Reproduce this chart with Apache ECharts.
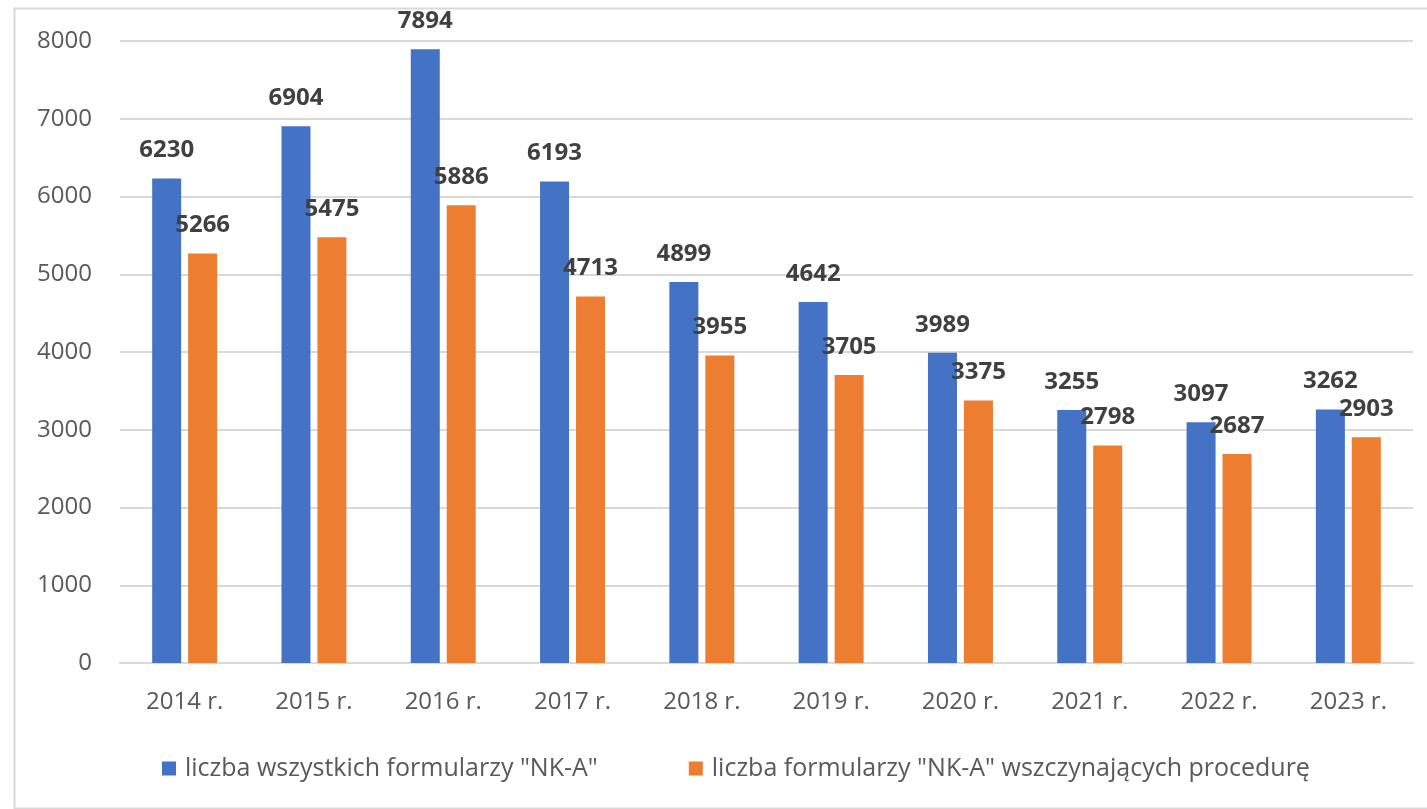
<!DOCTYPE html>
<html>
<head>
<meta charset="utf-8">
<script src="https://cdn.jsdelivr.net/npm/echarts@6/dist/echarts.min.js"></script>
<style>
  html, body { margin: 0; padding: 0; background: #fff; }
  #chart { width: 1427px; height: 809px; }
</style>
</head>
<body>
<div id="chart"></div>
<script>
var years = ['2014 r.', '2015 r.', '2016 r.', '2017 r.', '2018 r.', '2019 r.', '2020 r.', '2021 r.', '2022 r.', '2023 r.'];
var allForms = [6230, 6904, 7894, 6193, 4899, 4642, 3989, 3255, 3097, 3262];
var startingForms = [5266, 5475, 5886, 4713, 3955, 3705, 3375, 2798, 2687, 2903];
var yTicks = [0, 1000, 2000, 3000, 4000, 5000, 6000, 7000, 8000];

var nameAll = 'liczba wszystkich formularzy "NK-A"';
var nameStart = 'liczba formularzy "NK-A" wszczynających procedurę';

var fontName = '"Open Sans", "Liberation Sans", sans-serif';

var myChart = echarts.init(document.getElementById('chart'));

// etykiety wartości nad słupkami
var valueLabel = {
    show: true,
    position: 'top',
    distance: 16,
    fontSize: 24,
    fontWeight: 'bold',
    fontFamily: fontName,
    color: '#404040'
};

var option = {
    backgroundColor: '#fff',
    animation: false,
    graphic: [{
        type: 'rect',
        left: 12,
        top: 6,
        shape: { width: 1440, height: 800 },
        style: { fill: 'none', stroke: '#d9d9d9', lineWidth: 2 },
        silent: true
    }],
    grid: {
        left: 120,
        right: 14,
        top: 41,
        bottom: 146
    },
    legend: {
        bottom: 28,
        left: 162,
        padding: 0,
        itemWidth: 14,
        itemHeight: 14,
        itemGap: 91,
        icon: 'rect',
        textStyle: { fontSize: 25, color: '#595959', fontFamily: fontName, padding: [0, 0, 0, 4] },
        data: [nameAll, nameStart]
    },
    xAxis: {
        type: 'category',
        data: years,
        axisLine: { lineStyle: { color: '#d9d9d9', width: 2 } },
        axisTick: { show: false },
        axisLabel: { fontSize: 24, color: '#595959', margin: 27, fontFamily: fontName }
    },
    yAxis: {
        type: 'value',
        min: yTicks[0],
        max: yTicks[yTicks.length - 1],
        interval: 1000,
        axisLine: { show: false },
        axisTick: { show: false },
        splitLine: { lineStyle: { color: '#d9d9d9', width: 2 } },
        axisLabel: {
            fontSize: 24, color: '#595959', margin: 28, fontFamily: fontName,
            formatter: function (v) { return String(v); }
        }
    },
    series: [{
        name: nameAll,
        type: 'bar',
        data: allForms,
        barWidth: 29,
        barGap: '24%',
        itemStyle: { color: '#4472c4' },
        label: valueLabel
    }, {
        name: nameStart,
        type: 'bar',
        data: startingForms,
        barWidth: 29,
        itemStyle: { color: '#ed7d31' },
        label: valueLabel
    }]
};

myChart.setOption(option);
</script>
</body>
</html>
